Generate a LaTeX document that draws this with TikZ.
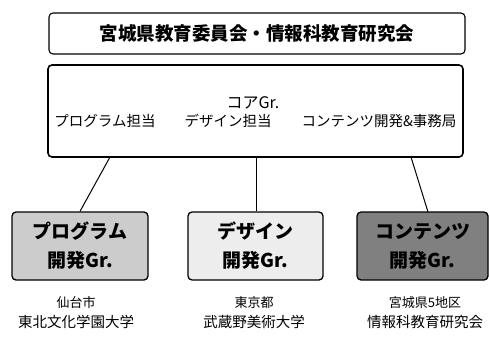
\documentclass[tikz,border=0pt]{standalone}
\usepackage{fontspec}
\setmainfont{Noto Sans CJK JP}
\newfontfamily\cjk{Noto Sans CJK JP}
\usetikzlibrary{calc}
\begin{document}
\begin{tikzpicture}[x=1pt,y=-1pt,
  box/.style={draw=black,rounded corners=4pt,line width=1.3pt,inner sep=0pt},
  grp/.style={box,minimum height=68pt,align=center,font=\cjk\bfseries\fontsize{19}{29}\selectfont},
  lbl/.style={align=center,font=\cjk\fontsize{13}{20}\selectfont,inner sep=0pt},
  sub/.style={font=\cjk\fontsize{14.5}{16}\selectfont,inner sep=0pt},
  conn/.style={draw=black,line width=1pt}]
\useasboundingbox (0,0) rectangle (489,337);
\node[box,line width=1.1pt,minimum width=416pt,minimum height=41pt,font=\cjk\bfseries\fontsize{18.5}{20}\selectfont] (top) at (257,33.5) {宮城県教育委員会・情報科教育研究会};
\node[box,line width=1.6pt,minimum width=415pt,minimum height=92pt] (core) at (255.5,111) {};
\node[font=\cjk\fontsize{16}{18}\selectfont,inner sep=0pt] (coretitle) at (253,103) {コアGr.};
\node[sub] (s1) at (105,121) {プログラム担当};
\node[sub] (s2) at (228,121) {デザイン担当};
\node[sub] (s3) at (379,121) {コンテンツ開発\&事務局};
\node[grp,fill=black!20,minimum width=136pt] (b1) at (80,246) {プログラム\\開発Gr.};
\node[grp,fill=black!7,minimum width=135pt] (b2) at (255.5,246) {デザイン\\開発Gr.};
\node[grp,fill=black!50,minimum width=131pt] (b3) at (422.5,246) {コンテンツ\\開発Gr.};
\coordinate (c1) at (110,157);
\coordinate (c2) at (256,157);
\coordinate (c3) at (411,157);
\coordinate (e3) at (428,212);
\draw[conn] (c1) -- (b1.north);
\draw[conn] (c2) -- (c2 |- b2.north);
\draw[conn] (c3) -- (e3);
\node[lbl] (l1) at (76,313) {仙台市\\{\fontsize{14.5}{20}\selectfont 東北文化学園大学}};
\node[lbl] (l2) at (254,313) {東京都\\{\fontsize{14.5}{20}\selectfont 武蔵野美術大学}};
\node[lbl] (l3) at (425,313) {宮城県5地区\\{\fontsize{14.5}{20}\selectfont 情報科教育研究会}};
\end{tikzpicture}
\end{document}
